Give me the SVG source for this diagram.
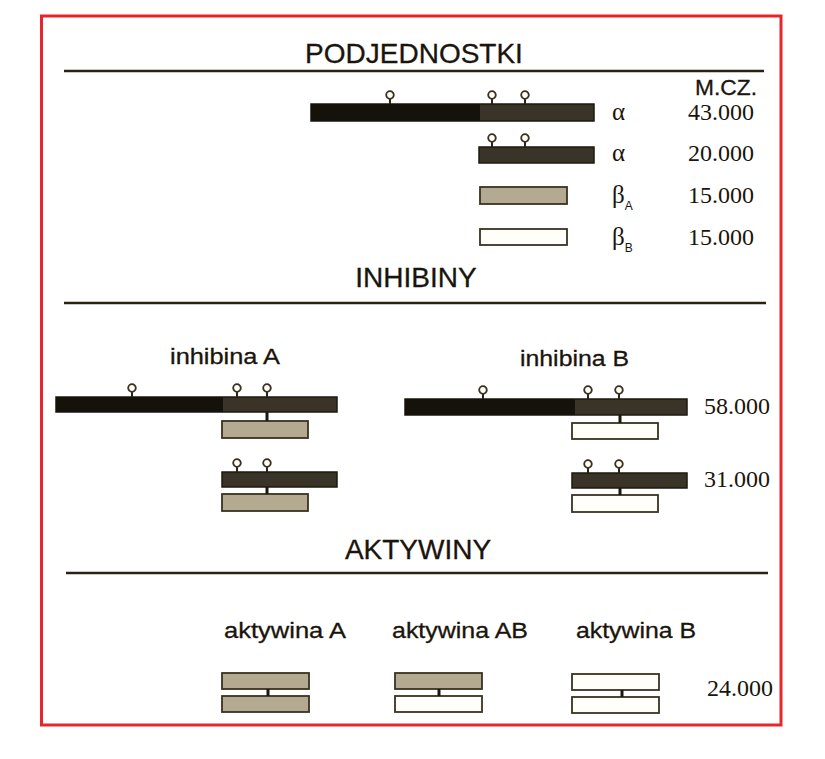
<svg xmlns="http://www.w3.org/2000/svg" xmlns:xlink="http://www.w3.org/1999/xlink" width="825" height="759" viewBox="0 0 825 759">
<style>
.hdr{font-family:"Liberation Sans",Arial,sans-serif;font-size:28px;fill:#1a150c;stroke:#1a150c;stroke-width:0.3;text-anchor:middle}
.lbl{font-family:"Liberation Sans",Arial,sans-serif;font-size:22px;fill:#1a150c;stroke:#1a150c;stroke-width:0.3}
.num{font-family:"Liberation Serif","Times New Roman",serif;font-size:24px;fill:#1a150c;text-anchor:end}
.grk{font-family:"Liberation Serif","Times New Roman",serif;font-size:25px;fill:#1a150c}
.sub{font-size:12px;font-family:"Liberation Sans",Arial,sans-serif}
.rule{stroke:#2a2210;stroke-width:2.5}
.blk{fill:#15110b}
.drk{fill:#3a3428;stroke:#1c180f;stroke-width:1.5}
.gry{fill:#b4aa92;stroke:#3a3222;stroke-width:1.8}
.wht{fill:#fffef8;stroke:#3a3222;stroke-width:1.8}
.lnk{stroke:#1c180f;stroke-width:3}
.lol line{stroke:#2a2416;stroke-width:2}
.lol circle{fill:#fffef8;stroke:#3a3020;stroke-width:1.8}
</style>
<defs>
<g id="lol" class="lol"><line x1="0" y1="-5" x2="0" y2="0"/><circle cx="0" cy="-9" r="3.8"/></g>
</defs>
<rect x="0" y="0" width="825" height="759" fill="#ffffff"/>
<rect x="41.5" y="16" width="739.5" height="709" fill="#ffffff" stroke="#e8262a" stroke-width="3"/>

<g id="headers">
<text class="hdr" x="414" y="63">PODJEDNOSTKI</text>
<line class="rule" x1="64" y1="71" x2="764" y2="71"/>
<text class="hdr" x="416" y="287">INHIBINY</text>
<line class="rule" x1="64" y1="303" x2="766" y2="303"/>
<text class="hdr" x="418" y="559">AKTYWINY</text>
<line class="rule" x1="66" y1="573" x2="768" y2="573"/>
<text class="lbl" x="757" y="95" text-anchor="end" textLength="62" lengthAdjust="spacingAndGlyphs">M.CZ.</text>
</g>

<g id="alpha43">
<rect class="drk" x="311" y="104" width="283" height="17"/>
<rect class="blk" x="311" y="104" width="169" height="17"/>
<use xlink:href="#lol" x="390" y="104"/>
<use xlink:href="#lol" x="492" y="104"/>
<use xlink:href="#lol" x="525" y="104"/>
<text class="grk" x="612" y="120">α</text>
<text class="num" x="754" y="120">43.000</text>
</g>

<g id="alpha20">
<rect class="drk" x="479" y="147" width="115" height="16"/>
<use xlink:href="#lol" x="492" y="147"/>
<use xlink:href="#lol" x="525" y="147"/>
<text class="grk" x="612" y="161">α</text>
<text class="num" x="754" y="161">20.000</text>
</g>

<g id="betaA">
<rect class="gry" x="480" y="187" width="87" height="17"/>
<text class="grk" x="612" y="203">β<tspan class="sub" dy="7">A</tspan></text>
<text class="num" x="754" y="203">15.000</text>
</g>

<g id="betaB">
<rect class="wht" x="480" y="229" width="87" height="16"/>
<text class="grk" x="612" y="245">β<tspan class="sub" dy="7">B</tspan></text>
<text class="num" x="754" y="245">15.000</text>
</g>

<g id="inhibinaA">
<text class="lbl" x="170" y="364" textLength="110" lengthAdjust="spacingAndGlyphs">inhibina A</text>
<g id="inhA58">
<rect class="drk" x="56" y="397" width="281" height="15"/>
<rect class="blk" x="56" y="397" width="167" height="15"/>
<use xlink:href="#lol" x="132" y="397"/>
<use xlink:href="#lol" x="237" y="397"/>
<use xlink:href="#lol" x="267" y="397"/>
<rect class="gry" x="222" y="421" width="86" height="17"/>
</g>
<g id="inhA31">
<rect class="drk" x="222" y="472" width="115" height="15"/>
<use xlink:href="#lol" x="237" y="472"/>
<use xlink:href="#lol" x="267" y="472"/>
<rect class="gry" x="222" y="494" width="86" height="17"/>
</g>
</g>

<g id="inhibinaB">
<text class="lbl" x="520" y="366" textLength="109" lengthAdjust="spacingAndGlyphs">inhibina B</text>
<g id="inhB58">
<rect class="drk" x="405" y="399" width="282" height="16"/>
<rect class="blk" x="405" y="399" width="170" height="16"/>
<use xlink:href="#lol" x="483" y="399"/>
<use xlink:href="#lol" x="588" y="399"/>
<use xlink:href="#lol" x="619" y="399"/>
<rect class="wht" x="572" y="423" width="86" height="16"/>
</g>
<g id="inhB31">
<rect class="drk" x="572" y="473" width="115" height="15"/>
<use xlink:href="#lol" x="588" y="473"/>
<use xlink:href="#lol" x="619" y="473"/>
<rect class="wht" x="572" y="495" width="86" height="17"/>
</g>
<text class="num" x="770" y="414">58.000</text>
<text class="num" x="770" y="487">31.000</text>
</g>

<g id="aktywinaA">
<text class="lbl" x="224" y="638" textLength="122" lengthAdjust="spacingAndGlyphs">aktywina A</text>
<rect class="gry" x="222" y="673" width="87" height="16"/>
<rect class="gry" x="222" y="696" width="87" height="16"/>
</g>

<g id="aktywinaAB">
<text class="lbl" x="392" y="638" textLength="136" lengthAdjust="spacingAndGlyphs">aktywina AB</text>
<rect class="gry" x="395" y="673" width="87" height="16"/>
<rect class="wht" x="395" y="696" width="87" height="16"/>
</g>

<g id="aktywinaB">
<text class="lbl" x="576" y="638" textLength="120" lengthAdjust="spacingAndGlyphs">aktywina B</text>
<rect class="wht" x="572" y="674" width="87" height="16"/>
<rect class="wht" x="572" y="697" width="87" height="16"/>
<text class="num" x="773" y="696">24.000</text>
</g>

<g id="connectors">
<line class="lnk" x1="267" y1="412" x2="267" y2="421"/>
<line class="lnk" x1="267" y1="487" x2="267" y2="494"/>
<line class="lnk" x1="620" y1="415" x2="620" y2="423"/>
<line class="lnk" x1="620" y1="488" x2="620" y2="495"/>
<line class="lnk" x1="268" y1="689" x2="268" y2="696"/>
<line class="lnk" x1="439" y1="689" x2="439" y2="696"/>
<line class="lnk" x1="622" y1="690" x2="622" y2="697"/>
</g>
</svg>
